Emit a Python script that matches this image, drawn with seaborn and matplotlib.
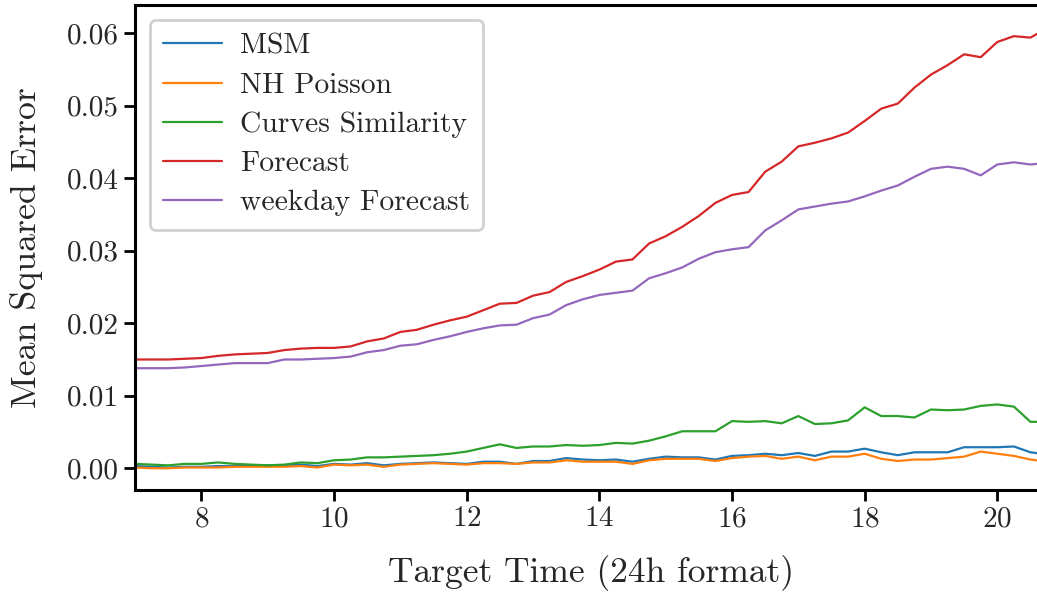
import numpy as np
import pandas as pd
import matplotlib
matplotlib.use("Agg")
import matplotlib.pyplot as plt
import seaborn as sns

# Target times (15-minute steps from 07:00 to 20:45)
times = [7 + 0.25 * i for i in range(56)]

msm = [0.0003, 0.0002, 0.0001, 0.0002, 0.0002, 0.0003, 0.0003, 0.0004, 0.0004, 0.0004,
       0.0005, 0.0003, 0.0006, 0.0005, 0.0007, 0.0004, 0.0006, 0.0007, 0.0008, 0.0007,
       0.0006, 0.0009, 0.0009, 0.0006, 0.0010, 0.0010, 0.0014, 0.0012, 0.0011, 0.0012,
       0.0009, 0.0013, 0.0016, 0.0015, 0.0015, 0.0012, 0.0017, 0.0018, 0.0020, 0.0018,
       0.0021, 0.0017, 0.0023, 0.0023, 0.0027, 0.0022, 0.0018, 0.0022, 0.0022, 0.0022,
       0.0029, 0.0029, 0.0029, 0.0030, 0.0022, 0.0019]

nh_poisson = [0.0001, 0.0000, 0.0000, 0.0001, 0.0001, 0.0001, 0.0002, 0.0002, 0.0002, 0.0002,
              0.0003, 0.0001, 0.0005, 0.0004, 0.0005, 0.0002, 0.0005, 0.0006, 0.0007, 0.0006,
              0.0005, 0.0007, 0.0007, 0.0006, 0.0008, 0.0008, 0.0011, 0.0009, 0.0009, 0.0009,
              0.0006, 0.0011, 0.0013, 0.0013, 0.0013, 0.0010, 0.0014, 0.0016, 0.0017, 0.0013,
              0.0016, 0.0011, 0.0016, 0.0016, 0.0020, 0.0013, 0.0010, 0.0012, 0.0012, 0.0014,
              0.0016, 0.0023, 0.0020, 0.0017, 0.0012, 0.0009]

curves_similarity = [0.0006, 0.0005, 0.0004, 0.0006, 0.0006, 0.0008, 0.0006, 0.0005, 0.0004, 0.0005,
                     0.0008, 0.0007, 0.0011, 0.0012, 0.0015, 0.0015, 0.0016, 0.0017, 0.0018, 0.0020,
                     0.0023, 0.0028, 0.0033, 0.0028, 0.0030, 0.0030, 0.0032, 0.0031, 0.0032, 0.0035,
                     0.0034, 0.0038, 0.0044, 0.0051, 0.0051, 0.0051, 0.0065, 0.0064, 0.0065, 0.0062,
                     0.0072, 0.0061, 0.0062, 0.0066, 0.0084, 0.0072, 0.0072, 0.0070, 0.0081, 0.0080,
                     0.0081, 0.0086, 0.0088, 0.0085, 0.0064, 0.0064]

forecast = [0.0150, 0.0150, 0.0150, 0.0151, 0.0152, 0.0155, 0.0157, 0.0158, 0.0159, 0.0163,
            0.0165, 0.0166, 0.0166, 0.0168, 0.0175, 0.0179, 0.0188, 0.0191, 0.0198, 0.0204,
            0.0209, 0.0218, 0.0227, 0.0228, 0.0238, 0.0243, 0.0257, 0.0265, 0.0274, 0.0285,
            0.0288, 0.0310, 0.0320, 0.0333, 0.0348, 0.0366, 0.0377, 0.0381, 0.0409, 0.0423,
            0.0444, 0.0449, 0.0455, 0.0463, 0.0479, 0.0496, 0.0503, 0.0525, 0.0543, 0.0556,
            0.0571, 0.0567, 0.0588, 0.0596, 0.0594, 0.0607]

weekday_forecast = [0.0138, 0.0138, 0.0138, 0.0139, 0.0141, 0.0143, 0.0145, 0.0145, 0.0145, 0.0150,
                    0.0150, 0.0151, 0.0152, 0.0154, 0.0160, 0.0163, 0.0169, 0.0171, 0.0177, 0.0182,
                    0.0188, 0.0193, 0.0197, 0.0198, 0.0207, 0.0212, 0.0225, 0.0233, 0.0239, 0.0242,
                    0.0245, 0.0262, 0.0269, 0.0277, 0.0289, 0.0298, 0.0302, 0.0305, 0.0328, 0.0342,
                    0.0357, 0.0361, 0.0365, 0.0368, 0.0375, 0.0383, 0.0390, 0.0402, 0.0413, 0.0416,
                    0.0413, 0.0404, 0.0419, 0.0422, 0.0419, 0.0421]

series_names = ["MSM", "NH Poisson", "Curves Similarity", "Forecast", "weekday Forecast"]
series_values = [msm, nh_poisson, curves_similarity, forecast, weekday_forecast]
colors = ["#1f77b4", "#ff7f0e", "#2ca02c", "#d62728", "#9467bd"]
x_ticks = [8, 10, 12, 14, 16, 18, 20]
y_ticks = [0.00, 0.01, 0.02, 0.03, 0.04, 0.05, 0.06]

sns.set_theme(style="ticks")
plt.rcParams["font.family"] = ["cmr10", "DejaVu Serif"]
plt.rcParams["axes.formatter.use_mathtext"] = True
plt.rcParams["mathtext.fontset"] = "cm"

fig = plt.figure(figsize=(10.37, 5.94), dpi=100)
ax = fig.add_axes([0.1302, 0.1751, 0.8795, 0.8165])

for name, vals, col in zip(series_names, series_values, colors):
    df = pd.DataFrame({"time": times, "mse": vals})
    sns.lineplot(data=df, x="time", y="mse", ax=ax, color=col, label=name, linewidth=1.6)

ax.set_xlim(7, 20.75)
ax.set_ylim(-0.003, 0.0639)
ax.set_xticks(x_ticks)
ax.set_yticks(y_ticks)
ax.set_yticklabels([f"{v:.2f}" for v in y_ticks])
ax.set_xlabel("Target Time (24h format)", fontsize=25.5, labelpad=16)
ax.set_ylabel("Mean Squared Error", fontsize=25.8, labelpad=17)
ax.tick_params(axis="both", labelsize=21, length=8, width=2, direction="out", color="black")
for sp in ax.spines.values():
    sp.set_linewidth(2.2)
    sp.set_color("black")

leg = ax.legend(loc="upper left", fontsize=21.3, frameon=True, handlelength=2.0,
                borderpad=0.45, labelspacing=0.42, handletextpad=0.6)
leg.get_frame().set_edgecolor("#cccccc")
leg.get_frame().set_linewidth(2)
leg.get_frame().set_alpha(0.9)

fig.savefig("out.png", dpi=100)
